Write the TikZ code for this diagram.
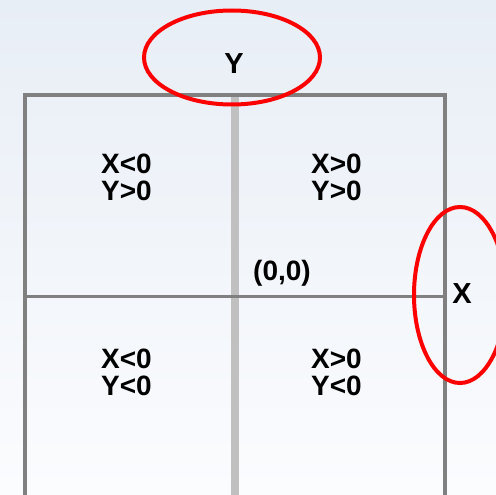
\documentclass[tikz,border=0pt]{standalone}
\usepackage{fontspec}
\setmainfont{Liberation Sans}
\usepackage{xcolor}
\usetikzlibrary{positioning}
\definecolor{bgtop}{RGB}{232, 238, 246}
\definecolor{bgbottom}{RGB}{251, 252, 254}
\definecolor{framegray}{RGB}{128, 128, 128}
\definecolor{axisgray}{RGB}{192, 192, 192}
\definecolor{markred}{RGB}{255, 0, 0}

\tikzset{
    quadlabel/.style={font=\bfseries\fontsize{28}{27}\selectfont, align=center, inner sep=0pt},
    axislabel/.style={font=\bfseries\fontsize{29}{28}\selectfont, inner sep=0pt},
    framestyle/.style={framegray, line width=4pt},
    markring/.style={markred, line width=4pt}
}

\begin{document}
\begin{tikzpicture}[x=1pt, y=-1pt]
    % Canvas
    \useasboundingbox (0,0) rectangle (496,495);
    \clip (0,0) rectangle (496,495);
    \shade[top color=bgtop, bottom color=bgbottom] (0,0) rectangle (496,495);

    % Frame corners
    \coordinate (tl) at (25,95);
    \coordinate (tr) at (444.5,95);
    \coordinate (bl) at (25,495);
    \coordinate (br) at (444.5,495);

    % Vertical axis
    \draw[axisgray, line width=8pt] (235,97) -- (235,495);

    % Frame
    \draw[framestyle] (bl) -- (tl) -- (tr) -- (br);
    \draw[framegray, line width=3pt] (25,296.5) -- (444.5,296.5);

    % Quadrant labels
    \foreach \name/\x/\y/\txt in {qa/126.5/177.5/{X<0\\Y>0}, qb/336.5/177.5/{X>0\\Y>0},
                                  qc/126.5/372.5/{X<0\\Y<0}, qd/336.5/372.5/{X>0\\Y<0}} {
        \node[quadlabel] (\name) at (\x,\y) {\txt};
    }

    % Origin
    \node[font=\bfseries\fontsize{28}{28}\selectfont, inner sep=0pt] (origin) at (282,273) {(0,0)};

    % Axis names
    \node[axislabel] (ylab) at (234,63.5) {Y};
    \node[axislabel] (xlab) at (462,293.5) {X};

    % Red rings
    \draw[markring] (232,57.5) ellipse (88pt and 47pt);
    \draw[markring] (460,295) ellipse (46pt and 88pt);
\end{tikzpicture}
\end{document}
